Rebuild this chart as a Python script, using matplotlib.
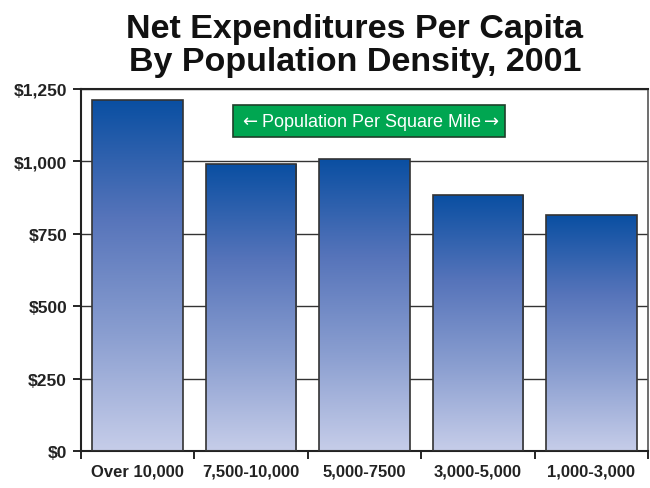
import matplotlib

matplotlib.use("Agg")
import matplotlib.pyplot as plt
import numpy as np
from matplotlib.colors import LinearSegmentedColormap
from matplotlib.ticker import FuncFormatter, MultipleLocator

plt.rcParams["font.family"] = ["Liberation Sans", "DejaVu Sans"]
plt.rcParams["mathtext.fontset"] = "dejavusans"

categories = ["Over 10,000", "7,500-10,000", "5,000-7500", "3,000-5,000", "1,000-3,000"]
spending = [1212, 990, 1008, 883, 814]

bar_cmap = LinearSegmentedColormap.from_list(
    "bar_fade", ["#0a4fa2", "#5674ba", "#8a9ed0", "#c6cde9"]
)

fig = plt.figure(figsize=(6.5, 4.89), dpi=100)
ax = fig.add_axes([81 / 650, 1 - 452 / 489, (648 - 81) / 650, (452 - 90) / 489])

x = np.arange(len(categories))
bars = ax.bar(x, spending, width=0.8, color="none", edgecolor="#333333", linewidth=1.2, zorder=3)

# vertical fade inside every bar, from dark blue at the top to pale lavender at the base
fade = np.linspace(0, 1, 256).reshape(-1, 1)
for rect in bars:
    x0, w, h = rect.get_x(), rect.get_width(), rect.get_height()
    img = ax.imshow(fade, cmap=bar_cmap, aspect="auto", extent=[x0, x0 + w, 0, h],
                    origin="upper", zorder=2)
    img.set_clip_path(rect)

ax.set_xlim(-0.5, len(categories) - 0.5)
ax.set_ylim(0, 1250)
ax.yaxis.set_major_locator(MultipleLocator(250))
ax.yaxis.set_major_formatter(FuncFormatter(lambda v, _: f"${v:,.0f}"))
ax.grid(axis="y", color="#333333", linewidth=1.0, zorder=1)

ax.set_xticks(x)
ax.set_xticklabels(categories)
ax.set_xticks(np.arange(-0.5, len(categories)), minor=True)
ax.tick_params(axis="x", which="major", length=0, pad=9)
ax.tick_params(axis="x", which="minor", length=6, width=1.2, direction="out")
ax.tick_params(axis="y", length=6, width=1.2, pad=4)
for lbl in ax.get_xticklabels():
    lbl.set_fontweight("bold")
    lbl.set_fontsize(12)
    lbl.set_color("#222222")
for lbl in ax.get_yticklabels():
    lbl.set_fontweight("bold")
    lbl.set_fontsize(12.5)
    lbl.set_color("#222222")

for side in ["left", "bottom", "top"]:
    ax.spines[side].set_color("#222222")
    ax.spines[side].set_linewidth(1.5)
ax.spines["right"].set_color("#555555")
ax.spines["right"].set_linewidth(1.2)

ax.text(2.04, 1139, r"$\leftarrow$Population Per Square Mile$\rightarrow$", color="white",
        fontsize=13, ha="center", va="center", zorder=5,
        bbox=dict(boxstyle="square,pad=0.32", facecolor="#00a651", edgecolor="#1f3f2a", linewidth=1.2))

fig.text(355 / 650, 1 - 46 / 489, "Net Expenditures Per Capita\nBy Population Density, 2001",
         ha="center", va="center", fontsize=24.5, fontweight="bold", color="#111111",
         linespacing=1.12)

fig.savefig("out.png", dpi=100)
